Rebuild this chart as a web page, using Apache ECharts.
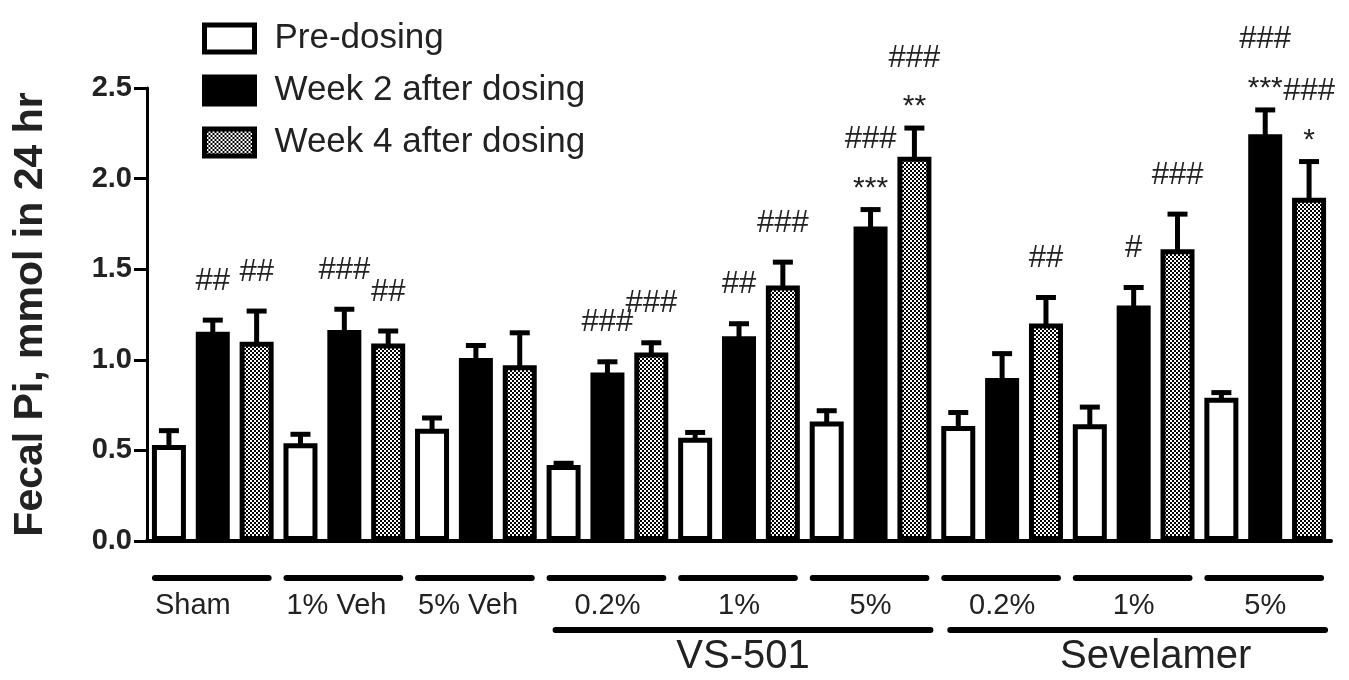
<!DOCTYPE html>
<html><head><meta charset="utf-8">
<script src="https://cdn.jsdelivr.net/npm/echarts@6/dist/echarts.min.js"></script>
<style>html,body{margin:0;padding:0;background:#fff}#c{width:1349px;height:680px}</style>
</head><body><div id="c"></div>
<script>
// ---- data ----
const groups = ['Sham', '1% Veh', '5% Veh', '0.2%', '1%', '5%', '0.2%', '1%', '5%'];
const superGroups = ['VS-501', 'Sevelamer'];
const superGroupSpans = [[3, 5], [6, 8]];
const seriesNames = ['Pre-dosing', 'Week 2 after dosing', 'Week 4 after dosing'];
const preDosing = [0.53, 0.54, 0.62, 0.42, 0.57, 0.66, 0.635, 0.645, 0.79];
const preDosingErr = [0.09, 0.06, 0.07, 0.02, 0.04, 0.07, 0.085, 0.105, 0.04];
const week2 = [1.155, 1.165, 1.01, 0.93, 1.13, 1.735, 0.90, 1.30, 2.245];
const week2Err = [0.075, 0.125, 0.08, 0.07, 0.08, 0.105, 0.145, 0.11, 0.145];
const week4 = [1.10, 1.09, 0.97, 1.04, 1.41, 2.12, 1.20, 1.61, 1.895];
const week4Err = [0.18, 0.08, 0.19, 0.065, 0.14, 0.17, 0.155, 0.205, 0.21];
const week2Hash = ['##', '###', '', '###', '##', '###', '', '#', '###'];
const week2Star = ['', '', '', '', '', '***', '', '', '***'];
const week4Hash = ['##', '##', '', '###', '###', '###', '##', '###', '###'];
const week4Star = ['', '', '', '', '', '**', '', '', '*'];
const yMin = 0, yMax = 2.5, yInterval = 0.5;
const yTitle = 'Fecal Pi, mmol in 24 hr';

// ---- styles ----
const FONT = 'Arial, "Liberation Sans", sans-serif';
const groupLabelAlign = ['left', 'left', 'left', 'center', 'center', 'center', 'center', 'center', 'center'];
const superLabelShift = [0, 18];

// ---- build ----
const values = [preDosing, week2, week4];
const errs = [preDosingErr, week2Err, week4Err];
const hashes = [groups.map(() => ''), week2Hash, week4Hash];
const stars = [groups.map(() => ''), week2Star, week4Star];
const categories = [];
groups.forEach((g, gi) => seriesNames.forEach((s, si) => categories.push(gi + '-' + si)));

const pc = document.createElement('canvas');
pc.width = 4; pc.height = 4;
const pctx = pc.getContext('2d');
pctx.fillStyle = '#fff'; pctx.fillRect(0, 0, 4, 4);
pctx.fillStyle = '#000'; pctx.fillRect(0, 0, 2, 2); pctx.fillRect(2, 2, 2, 2);
const checker = { image: pc, repeat: 'repeat' };

const fills = ['#fff', '#000', checker];
const barSeries = seriesNames.map((name, si) => ({
  name, type: 'bar', barWidth: 34, barGap: '-100%', z: 3,
  itemStyle: { color: fills[si], borderColor: '#000', borderWidth: 5 },
  data: categories.map((c, ci) => (ci % 3 === si ? values[si][Math.floor(ci / 3)] : '-'))
}));

const errData = [], errMeta = [];
groups.forEach((g, gi) => seriesNames.forEach((s, si) => {
  errData.push([gi * 3 + si, values[si][gi], errs[si][gi]]);
  errMeta.push({ hash: hashes[si][gi], star: stars[si][gi] });
}));

const errSeries = {
  type: 'custom', z: 2, clip: false, silent: true,
  data: errData,
  renderItem(params, api) {
    const x = api.value(0), m = api.value(1), e = api.value(2);
    const top = api.coord([x, m]);
    const cap = api.coord([x, m + e]);
    const meta = errMeta[params.dataIndex];
    const ch = [
      { type: 'line', shape: { x1: top[0], y1: top[1] + 3, x2: cap[0], y2: cap[1] }, style: { stroke: '#000', lineWidth: 5 } },
      { type: 'line', shape: { x1: cap[0] - 10, y1: cap[1] + 2, x2: cap[0] + 10, y2: cap[1] + 2 }, style: { stroke: '#000', lineWidth: 5 } }
    ];
    let off = 37;
    if (meta.star) {
      ch.push({ type: 'text', style: { text: meta.star, x: cap[0], y: cap[1] - 19, fill: '#222', fontSize: 30, fontFamily: FONT, align: 'center', verticalAlign: 'middle' } });
      off = 68;
    }
    if (meta.hash) {
      ch.push({ type: 'text', style: { text: meta.hash, x: cap[0], y: cap[1] - off, fill: '#222', fontSize: 31, fontFamily: FONT, align: 'center', verticalAlign: 'middle' } });
    }
    return { type: 'group', children: ch };
  }
};

const groupSeries = {
  type: 'custom', clip: false, silent: true, z: 5,
  data: groups.map((g, gi) => [gi * 3, 0]),
  renderItem(params, api) {
    const gi = params.dataIndex;
    const a = api.coord([gi * 3, 0]), b = api.coord([gi * 3 + 2, 0]);
    const y0 = a[1];
    const x1 = a[0] - 14, x2 = b[0] + 12;
    const al = groupLabelAlign[gi];
    return { type: 'group', children: [
      { type: 'line', shape: { x1, y1: y0 + 37, x2, y2: y0 + 37 }, style: { stroke: '#000', lineWidth: 6, lineCap: 'round' } },
      { type: 'text', style: { text: groups[gi], x: al === 'left' ? x1 : (a[0] + b[0]) / 2, y: y0 + 65, fill: '#222', fontSize: 29, fontFamily: FONT, align: al, verticalAlign: 'middle' } }
    ] };
  }
};

const superSeries = {
  type: 'custom', clip: false, silent: true, z: 5,
  data: superGroups.map((g, i) => [superGroupSpans[i][0] * 3, 0]),
  renderItem(params, api) {
    const i = params.dataIndex;
    const a = api.coord([superGroupSpans[i][0] * 3, 0]), b = api.coord([superGroupSpans[i][1] * 3 + 2, 0]);
    const y0 = a[1];
    const x1 = a[0] - 8, x2 = b[0] + 16;
    return { type: 'group', children: [
      { type: 'line', shape: { x1, y1: y0 + 89, x2, y2: y0 + 89 }, style: { stroke: '#000', lineWidth: 6, lineCap: 'round' } },
      { type: 'text', style: { text: superGroups[i], x: (x1 + x2) / 2 + superLabelShift[i], y: y0 + 116, fill: '#222', fontSize: 40, fontFamily: FONT, align: 'center', verticalAlign: 'middle' } }
    ] };
  }
};

const chart = echarts.init(document.getElementById('c'), null, { renderer: 'canvas' });
chart.setOption({
  animation: false,
  backgroundColor: '#fff',
  grid: { left: 147, right: 18, top: 88, bottom: 139, containLabel: false, outerBoundsMode: 'none' },
  legend: {
    orient: 'vertical', left: 197, top: 16, itemWidth: 50, itemHeight: 27, itemGap: 17,
    textStyle: { fontSize: 35, fontFamily: FONT, color: '#222', padding: [0, 0, 0, 15] },
    data: seriesNames.map((n, si) => ({ name: n, icon: 'rect', itemStyle: { color: fills[si], borderColor: '#000', borderWidth: 5 } })),
    selectedMode: false
  },
  xAxis: {
    type: 'category', data: categories,
    axisLine: { lineStyle: { color: '#000', width: 4 } },
    axisTick: { alignWithLabel: true, length: 10, lineStyle: { color: '#000', width: 3 } },
    axisLabel: { show: false }, splitLine: { show: false }
  },
  yAxis: {
    type: 'value', min: yMin, max: yMax, interval: yInterval,
    name: yTitle, nameLocation: 'middle', nameRotate: 90, nameGap: 96,
    nameTextStyle: { fontSize: 41, fontWeight: 'bold', fontFamily: FONT, color: '#222' },
    axisLine: { show: true, lineStyle: { color: '#000', width: 3 } },
    axisTick: { show: true, length: 13, lineStyle: { color: '#000', width: 3 } },
    axisLabel: { fontSize: 29, fontWeight: 'bold', fontFamily: FONT, color: '#222', margin: 15, formatter: v => v.toFixed(1) },
    splitLine: { show: false }
  },
  series: [...barSeries, errSeries, groupSeries, superSeries]
});
</script>
</body></html>
